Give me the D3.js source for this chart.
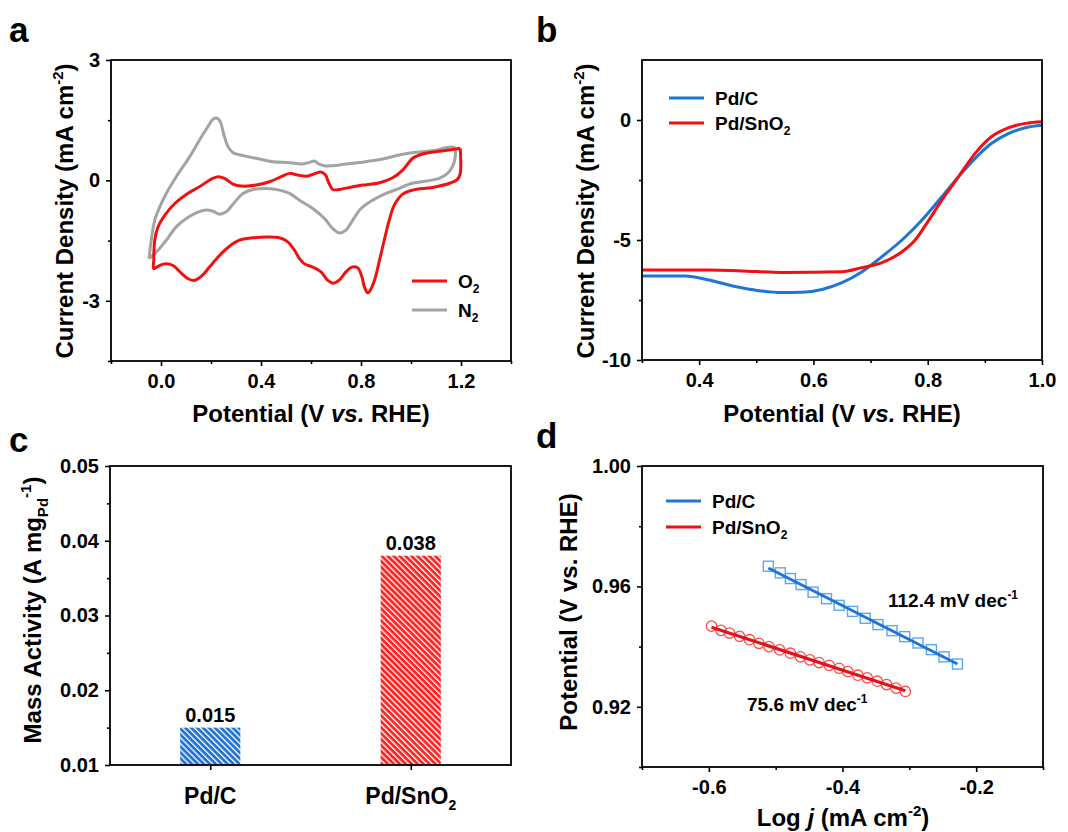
<!DOCTYPE html>
<html>
<head>
<meta charset="utf-8">
<script src="https://cdn.jsdelivr.net/npm/d3@7"></script>
<style>
  body { margin: 0; background: #fff; }
  text { font-family: "Liberation Sans", Arial, Helvetica, sans-serif; font-weight: bold; fill: #000; }
</style>
</head>
<body>
<div id="chart"></div>
<script>
// ---- data ----
// a: CV loops (V vs RHE, mA cm-2), traced in scan order
const cvO2 = [[1.197,0.80],[1.197,0.175],[1.186,0.025],[1.160,-0.058],[1.087,-0.175],[1.007,-0.242],[0.967,-0.342],[0.933,-0.617],[0.913,-0.99],[0.893,-1.49],[0.874,-1.99],[0.854,-2.49],[0.837,-2.74],[0.827,-2.80],[0.814,-2.66],[0.804,-2.41],[0.787,-2.18],[0.764,-2.16],[0.740,-2.28],[0.714,-2.48],[0.691,-2.56],[0.667,-2.49],[0.640,-2.28],[0.607,-2.16],[0.574,-2.08],[0.554,-1.95],[0.534,-1.74],[0.507,-1.53],[0.474,-1.43],[0.421,-1.41],[0.368,-1.43],[0.314,-1.49],[0.274,-1.64],[0.234,-1.87],[0.194,-2.16],[0.161,-2.39],[0.134,-2.49],[0.108,-2.45],[0.081,-2.31],[0.048,-2.12],[0.015,-2.08],[-0.012,-2.14],[-0.029,-2.20],[-0.029,-1.99],[-0.025,-1.49],[-0.012,-1.16],[0.015,-0.87],[0.055,-0.575],[0.101,-0.35],[0.154,-0.158],[0.201,0.033],[0.228,0.092],[0.254,0.05],[0.288,-0.092],[0.321,-0.142],[0.381,-0.117],[0.434,-0.033],[0.481,0.092],[0.514,0.175],[0.547,0.133],[0.587,0.108],[0.618,0.175],[0.640,0.208],[0.658,0.133],[0.671,-0.058],[0.687,-0.225],[0.714,-0.225],[0.767,-0.158],[0.807,-0.117],[0.874,-0.058],[0.927,0.067],[0.967,0.258],[1.007,0.55],[1.047,0.658],[1.101,0.717],[1.154,0.758],[1.197,0.80]];
const cvN2 = [[-0.048,-1.95],[-0.039,-1.49],[-0.025,-0.99],[-0.005,-0.66],[0.021,-0.325],[0.061,0.092],[0.115,0.592],[0.154,1.008],[0.188,1.342],[0.208,1.525],[0.224,1.55],[0.237,1.467],[0.250,1.175],[0.268,0.842],[0.288,0.692],[0.328,0.617],[0.381,0.55],[0.447,0.467],[0.514,0.442],[0.561,0.408],[0.594,0.45],[0.614,0.483],[0.627,0.425],[0.654,0.367],[0.687,0.367],[0.740,0.408],[0.820,0.467],[0.887,0.533],[0.953,0.633],[1.020,0.70],[1.087,0.742],[1.173,0.817],[1.177,0.592],[1.166,0.342],[1.146,0.175],[1.113,0.05],[1.060,-0.017],[0.993,-0.092],[0.953,-0.2],[0.900,-0.325],[0.847,-0.492],[0.800,-0.70],[0.767,-0.99],[0.740,-1.24],[0.714,-1.31],[0.687,-1.2],[0.654,-0.95],[0.607,-0.70],[0.554,-0.492],[0.514,-0.325],[0.474,-0.242],[0.421,-0.2],[0.368,-0.225],[0.328,-0.325],[0.288,-0.592],[0.261,-0.783],[0.234,-0.842],[0.208,-0.767],[0.174,-0.742],[0.141,-0.808],[0.101,-0.95],[0.061,-1.158],[0.021,-1.49],[-0.012,-1.74],[-0.048,-1.95]];

// b: LSV curves
const lsvPdC = [[0.30,-6.5],[0.376,-6.5],[0.417,-6.67],[0.463,-6.94],[0.504,-7.11],[0.545,-7.19],[0.58,-7.18],[0.615,-7.06],[0.65,-6.78],[0.685,-6.32],[0.72,-5.69],[0.755,-5.0],[0.79,-4.17],[0.825,-3.19],[0.854,-2.36],[0.883,-1.6],[0.912,-0.97],[0.942,-0.56],[0.971,-0.32],[1.0,-0.22]];
const lsvPdSnO2 = [[0.30,-6.25],[0.417,-6.25],[0.475,-6.29],[0.545,-6.35],[0.65,-6.32],[0.685,-6.15],[0.72,-5.94],[0.755,-5.49],[0.778,-5.0],[0.802,-4.17],[0.825,-3.33],[0.854,-2.36],[0.883,-1.39],[0.912,-0.69],[0.942,-0.32],[0.971,-0.14],[1.0,-0.07]];

// c: mass activity
const barNames = ["Pd/C", "Pd/SnO2"];
const barValues = [0.015, 0.038];
const barLabels = ["0.015", "0.038"];

// d: Tafel points (log j, V)
const tafelPdC = [[-0.511,0.9667],[-0.493,0.9645],[-0.478,0.9626],[-0.462,0.9606],[-0.444,0.9581],[-0.424,0.9559],[-0.405,0.9537],[-0.385,0.9517],[-0.366,0.9494],[-0.347,0.9473],[-0.326,0.9453],[-0.307,0.9433],[-0.287,0.9412],[-0.267,0.9390],[-0.248,0.9366],[-0.228,0.9342]];
const tafelPdSnO2 = [[-0.596,0.9468],[-0.582,0.9454],[-0.569,0.9445],[-0.554,0.9434],[-0.539,0.9423],[-0.525,0.9411],[-0.510,0.9400],[-0.494,0.9389],[-0.478,0.9378],[-0.463,0.9366],[-0.449,0.9356],[-0.435,0.9347],[-0.420,0.9338],[-0.405,0.9328],[-0.392,0.9317],[-0.377,0.9305],[-0.363,0.9296],[-0.348,0.9285],[-0.334,0.9274],[-0.320,0.9262],[-0.306,0.9251]];
const slopeLabels = ["112.4 mV dec", "75.6 mV dec"];

// ---- colours ----
const cRed = "#f01010", cGrey = "#a3a3a3", cBlue = "#1f74d6";

const svg = d3.select("#chart").append("svg")
  .attr("width", 1068).attr("height", 832);
const defs = svg.append("defs");

// text with sub/superscript parts
function rich(sel, parts, fs) {
  let off = 0;
  parts.forEach(p => {
    const o = typeof p === "string" ? { t: p } : p;
    const txt = o.t !== undefined ? o.t : (o.sup !== undefined ? o.sup : o.sub);
    const target = o.sup ? -0.42 * fs : o.sub ? 0.28 * fs : 0;
    const ts = sel.append("tspan").text(txt).attr("dy", target - off);
    off = target;
    if (o.sup || o.sub) ts.attr("font-size", Math.round(fs * 0.62));
    if (o.it) ts.attr("font-style", "italic");
  });
  return sel;
}

// frame + ticks for a panel
function axes(g, x, y, o) {
  const [x0, x1] = x.range(), [y0, y1] = y.range();
  const style = sel => {
    sel.select(".domain").remove();
    sel.attr("font-size", 20).attr("font-family", null).attr("font-weight", "bold");
    sel.selectAll("line").attr("stroke", "#000").attr("stroke-width", 1.6);
  };
  g.append("g").attr("transform", `translate(0,${y0})`)
    .call(d3.axisBottom(x).tickValues(o.xMinor || []).tickSize(3).tickFormat(""))
    .call(style);
  g.append("g").attr("transform", `translate(${x0},0)`)
    .call(d3.axisLeft(y).tickValues(o.yMinor).tickSize(3).tickFormat(""))
    .call(style);
  g.append("g").attr("transform", `translate(0,${y0})`)
    .call(d3.axisBottom(x).tickValues(o.xMajor).tickSize(5).tickPadding(8).tickFormat(o.xFmt))
    .call(style);
  g.append("g").attr("transform", `translate(${x0},0)`)
    .call(d3.axisLeft(y).tickValues(o.yMajor).tickSize(5).tickPadding(6).tickFormat(o.yFmt))
    .call(style);
  g.append("rect").attr("x", x0).attr("y", y1).attr("width", x1 - x0).attr("height", y0 - y1)
    .attr("fill", "none").attr("stroke", "#000").attr("stroke-width", 1.8);
}

function yTitle(g, x, y, parts) {
  rich(g.append("text").attr("transform", `translate(${x},${y}) rotate(-90)`)
    .attr("text-anchor", "middle").attr("font-size", 24), parts, 24);
}
function xTitle(g, x, y, parts) {
  rich(g.append("text").attr("x", x).attr("y", y)
    .attr("text-anchor", "middle").attr("font-size", 24), parts, 24);
}
function legend(g, x, y, color, parts, w) {
  g.append("line").attr("x1", x).attr("x2", x + 35).attr("y1", y).attr("y2", y)
    .attr("stroke", color).attr("stroke-width", w || 3);
  rich(g.append("text").attr("x", x + 46).attr("y", y + 7).attr("font-size", 19), parts, 19);
}
function panelLabel(x, y, t) {
  svg.append("text").attr("x", x).attr("y", y).attr("font-size", 35).text(t);
}

// ================= a =================
{
  const g = svg.append("g");
  const x = d3.scaleLinear().domain([-0.2, 1.4]).range([111, 511]);
  const y = d3.scaleLinear().domain([-4.5, 3]).range([361, 60]);
  const line = d3.line().x(d => x(d[0])).y(d => y(d[1])).curve(d3.curveCatmullRom.alpha(0.5));
  g.append("path").datum(cvN2).attr("d", line).attr("fill", "none").attr("stroke", cGrey).attr("stroke-width", 3);
  g.append("path").datum(cvO2).attr("d", line).attr("fill", "none").attr("stroke", cRed).attr("stroke-width", 3);
  axes(g, x, y, {
    xMajor: [0, 0.4, 0.8, 1.2], xMinor: [-0.2, 0.2, 0.6, 1.0, 1.4], xFmt: d => d.toFixed(1),
    yMajor: [3, 0, -3], yMinor: [1.5, -1.5, -4.5], yFmt: d => String(d)
  });
  legend(g, 412, 281, cRed, ["O", { sub: "2" }]);
  legend(g, 412, 310, cGrey, ["N", { sub: "2" }]);
  yTitle(g, 73, 211, ["Current Density (mA cm", { sup: "-2" }, ")"]);
  xTitle(g, 311, 422, ["Potential (V ", { t: "vs.", it: true }, " RHE)"]);
}

// ================= b =================
{
  const g = svg.append("g");
  const x = d3.scaleLinear().domain([0.3, 1.0]).range([642, 1042]);
  const y = d3.scaleLinear().domain([-10, 2.5]).range([360, 60]);
  const line = d3.line().x(d => x(d[0])).y(d => y(d[1])).curve(d3.curveMonotoneX);
  g.append("path").datum(lsvPdC).attr("d", line).attr("fill", "none").attr("stroke", cBlue).attr("stroke-width", 3);
  g.append("path").datum(lsvPdSnO2).attr("d", line).attr("fill", "none").attr("stroke", cRed).attr("stroke-width", 3);
  axes(g, x, y, {
    xMajor: [0.4, 0.6, 0.8, 1.0], xMinor: [0.3, 0.5, 0.7, 0.9], xFmt: d => d.toFixed(1),
    yMajor: [0, -5, -10], yMinor: [-2.5, -7.5], yFmt: d => String(d)
  });
  legend(g, 669, 98, cBlue, ["Pd/C"]);
  legend(g, 669, 123, cRed, ["Pd/SnO", { sub: "2" }]);
  yTitle(g, 594, 211, ["Current Density (mA cm", { sup: "-2" }, ")"]);
  xTitle(g, 842, 422, ["Potential (V ", { t: "vs.", it: true }, " RHE)"]);
}

// ================= c =================
{
  const g = svg.append("g");
  const x = d3.scalePoint().domain(barNames).range([110, 511]).padding(0.5);
  const y = d3.scaleLinear().domain([0.01, 0.05]).range([765, 466]);
  const fills = [cBlue, "#ff2424"];
  fills.forEach((c, i) => {
    const p = defs.append("pattern").attr("id", "hatch" + i)
      .attr("patternUnits", "userSpaceOnUse").attr("width", 4.2).attr("height", 4.2)
      .attr("patternTransform", "rotate(-45)");
    p.append("rect").attr("width", 4.2).attr("height", 4.2).attr("fill", c);
    p.append("line").attr("x1", 0.7).attr("x2", 0.7).attr("y1", 0).attr("y2", 4.2)
      .attr("stroke", "#fff").attr("stroke-width", 1.3);
  });
  const bw = x.step() * 0.3;
  g.selectAll(".bar").data(barValues).join("rect").attr("class", "bar")
    .attr("x", (d, i) => x(barNames[i]) - bw / 2).attr("width", bw)
    .attr("y", d => y(d)).attr("height", d => y(0.01) - y(d))
    .attr("fill", (d, i) => `url(#hatch${i})`);
  g.selectAll(".val").data(barValues).join("text").attr("class", "val")
    .attr("x", (d, i) => x(barNames[i])).attr("y", d => y(d) - 6)
    .attr("text-anchor", "middle").attr("font-size", 20).text((d, i) => barLabels[i]);
  axes(g, x, y, {
    xMajor: barNames, xMinor: [], xFmt: () => "",
    yMajor: [0.01, 0.02, 0.03, 0.04, 0.05], yMinor: [0.015, 0.025, 0.035, 0.045], yFmt: d => d.toFixed(2)
  });
  rich(g.append("text").attr("x", x(barNames[0])).attr("y", 804).attr("text-anchor", "middle").attr("font-size", 23), ["Pd/C"], 23);
  rich(g.append("text").attr("x", x(barNames[1])).attr("y", 804).attr("text-anchor", "middle").attr("font-size", 23), ["Pd/SnO", { sub: "2" }], 23);
  yTitle(g, 41, 610, ["Mass Activity (A mg", { sub: "Pd" }, { sup: "-1" }, ")"]);
}

// ================= d =================
{
  const g = svg.append("g");
  const x = d3.scaleLinear().domain([-0.7, -0.1]).range([642, 1043]);
  const y = d3.scaleLinear().domain([0.9, 1.0]).range([767, 466]);
  const fit = pts => {
    const mx = d3.mean(pts, d => d[0]), my = d3.mean(pts, d => d[1]);
    const b = d3.sum(pts, d => (d[0] - mx) * (d[1] - my)) / d3.sum(pts, d => (d[0] - mx) ** 2);
    const ends = d3.extent(pts, d => d[0]);
    return ends.map(v => [v, my + b * (v - mx)]);
  };
  const line = d3.line().x(d => x(d[0])).y(d => y(d[1]));
  g.selectAll(".sq").data(tafelPdC).join("rect").attr("class", "sq")
    .attr("x", d => x(d[0]) - 5).attr("y", d => y(d[1]) - 5).attr("width", 10).attr("height", 10)
    .attr("fill", "none").attr("stroke", "#5aa7f2").attr("stroke-width", 1.4);
  g.selectAll(".ci").data(tafelPdSnO2).join("circle").attr("class", "ci")
    .attr("cx", d => x(d[0])).attr("cy", d => y(d[1])).attr("r", 5.2)
    .attr("fill", "none").attr("stroke", "#ff4a4a").attr("stroke-width", 1.3);
  g.append("path").datum(fit(tafelPdC)).attr("d", line).attr("stroke", cBlue).attr("stroke-width", 3).attr("fill", "none");
  g.append("path").datum(fit(tafelPdSnO2)).attr("d", line).attr("stroke", "#e0141a").attr("stroke-width", 3.2).attr("fill", "none");
  axes(g, x, y, {
    xMajor: [-0.6, -0.4, -0.2], xMinor: [-0.7, -0.5, -0.3, -0.1], xFmt: d => d.toFixed(1),
    yMajor: [1.0, 0.96, 0.92], yMinor: [0.98, 0.94, 0.9], yFmt: d => d.toFixed(2)
  });
  legend(g, 666, 501, cBlue, ["Pd/C"]);
  legend(g, 666, 527, cRed, ["Pd/SnO", { sub: "2" }]);
  rich(g.append("text").attr("x", 888).attr("y", 607).attr("font-size", 19), [slopeLabels[0], { sup: "-1" }], 19);
  rich(g.append("text").attr("x", 747).attr("y", 711).attr("font-size", 19), [slopeLabels[1], { sup: "-1" }], 19);
  yTitle(g, 577, 612, ["Potential (V vs. RHE)"]);
  xTitle(g, 843, 826, ["Log ", { t: "j", it: true }, " (mA cm", { sup: "-2" }, ")"]);
}

panelLabel(9, 42, "a");
panelLabel(536, 42, "b");
panelLabel(9, 452, "c");
panelLabel(536, 448, "d");
</script>
</body>
</html>
